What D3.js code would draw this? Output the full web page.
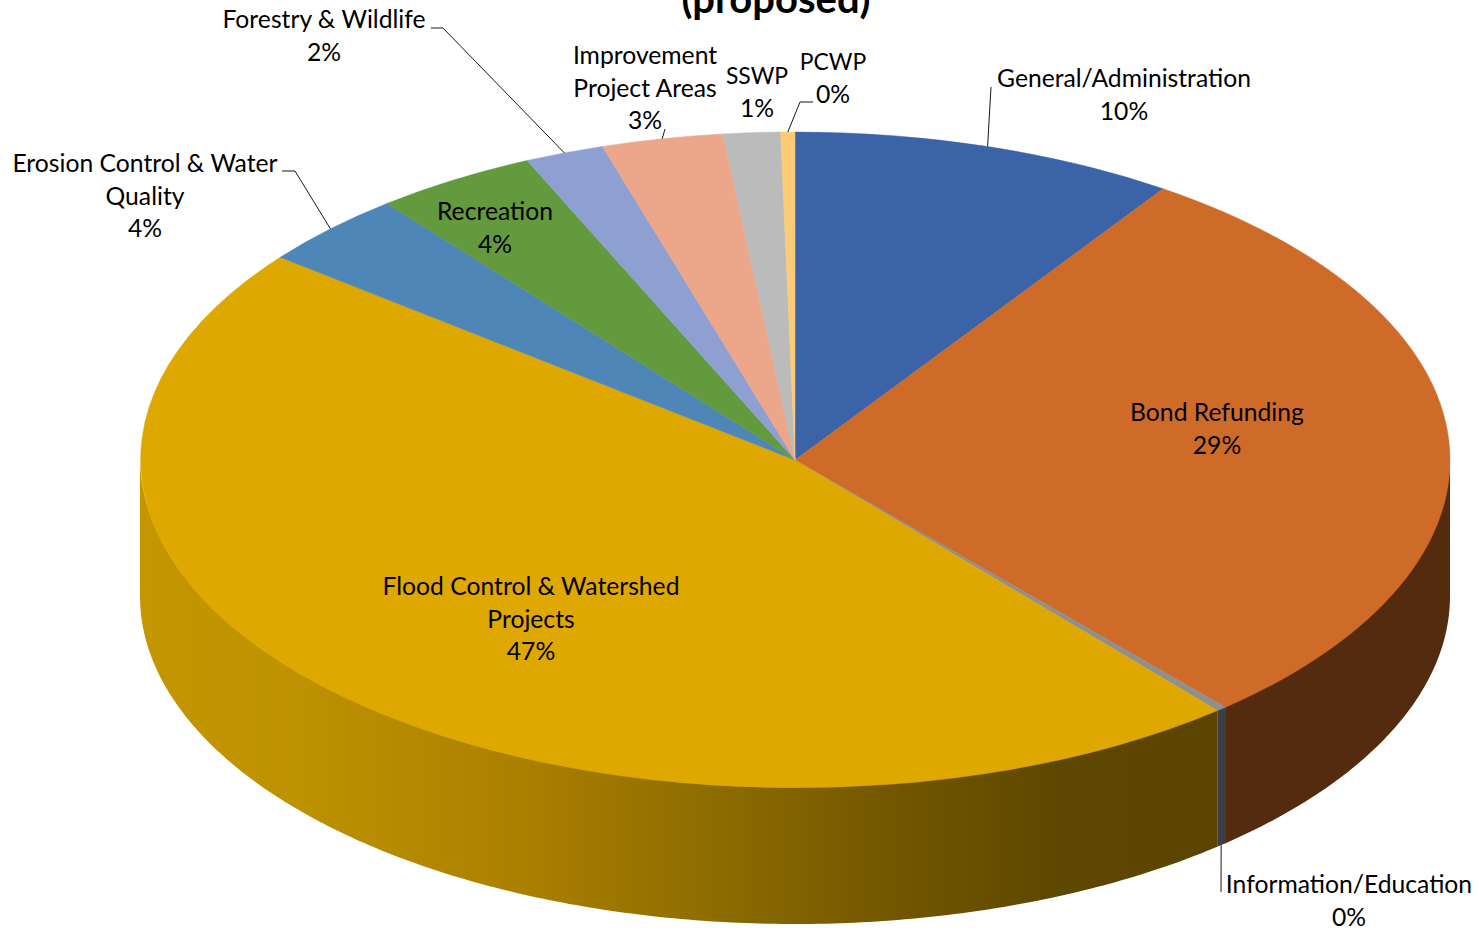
<!DOCTYPE html>
<html>
<head>
<meta charset="utf-8">
<script src="https://cdnjs.cloudflare.com/ajax/libs/d3/7.8.5/d3.min.js"></script>
<style>
    html, body { margin: 0; padding: 0; background: #fff; overflow: hidden; }
    text { font-family: Lato, "Open Sans", sans-serif; fill: #000; }
</style>
</head>
<body>
<div id="chart"></div>
<script>
// chart data
const categories = ["General/Administration", "Bond Refunding", "Information/Education",
    "Flood Control & Watershed Projects", "Erosion Control & Water Quality", "Recreation",
    "Forestry & Wildlife", "Improvement Project Areas", "SSWP", "PCWP"];
const shares = [9.5, 29.1, 0.25, 46.75, 3.7, 4.0, 1.95, 3.0, 1.4, 0.35];
const topColors = ["#3B63A8", "#CE6B28", "#8F8F8F", "#DFA800", "#4E86B8", "#629A3D", "#8E9FD1", "#ECA689", "#BBBBBB", "#FBCB78"];
const wallColors = ["#2A4678", "#552B10", "#3B3F44", "url(#floodWall)", "#355C80", "#44692A", "#616D8F", "#A1715D", "#808080", "#AB8B52"];
const titleText = "(proposed)";

// label layout: name lines, centre x, first baseline
const labelLines = [["General/Administration"], ["Bond Refunding"], ["Information/Education"],
    ["Flood Control & Watershed", "Projects"], ["Erosion Control & Water", "Quality"], ["Recreation"],
    ["Forestry & Wildlife"], ["Improvement", "Project Areas"], ["SSWP"], ["PCWP"]];
const labelX = [1124, 1217, 1349, 531, 145, 495, 324, 645, 757, 833];
const labelY = [87, 421, 893, 595, 172, 220, 28, 64, 84, 70];
// leader elbows, in slice order (null = no leader)
const leaderFrom = [[[991, 87]], null, [[1221, 892]], null, [[282, 171], [295, 171]], null,
    [[431, 28], [443, 28]], [[665, 129]], null, [[813, 102], [800, 102]]];

const width = 1479, height = 932;
const cx = 795, cy = 460, rx = 655, ry = 328, depth = 136;
const fontSize = 24.7, capsFontSize = 22.9, lineHeight = 32.5;

const x = d3.scaleLinear().domain([-1, 1]).range([cx - rx, cx + rx]);
const y = d3.scaleLinear().domain([-1, 1]).range([cy - ry, cy + ry]);

const svg = d3.select("#chart").append("svg")
    .attr("width", width)
    .attr("height", height)
    .style("display", "block");

// side wall gradient of the big slice
const grad = svg.append("defs").append("linearGradient")
    .attr("id", "floodWall")
    .attr("gradientUnits", "userSpaceOnUse")
    .attr("x1", x(-1)).attr("x2", x(0.65)).attr("y1", 0).attr("y2", 0);
[[0, "#C49600"], [0.15, "#BE9100"], [0.35, "#AC8000"], [0.55, "#8A6A00"], [0.7, "#725600"], [0.85, "#5E4700"], [1, "#5A4400"]]
    .forEach(s => grad.append("stop").attr("offset", s[0]).attr("stop-color", s[1]));

const slices = d3.pie().sort(null).value(d => d)(shares);

// point on the rim for an angle measured clockwise from the top
const rimX = a => x(Math.sin(a));
const rimY = a => y(-Math.cos(a));

// walls, only the front half of the rim shows
// top edge goes a bit under the top face so no white seam shows
const wall = d3.area()
    .x(a => rimX(a))
    .y0(a => rimY(a) - 3)
    .y1(a => rimY(a) + depth);

svg.append("g").selectAll("path")
    .data(slices)
    .enter().append("path")
    .attr("d", d => {
        let a0 = Math.max(d.startAngle, Math.PI / 2), a1 = Math.min(d.endAngle, 3 * Math.PI / 2);
        if (a1 <= a0) return null;
        let n = Math.max(2, Math.ceil((a1 - a0) * 90));
        return wall(d3.range(n + 1).map(i => a0 + (a1 - a0) * i / n));
    })
    .attr("fill", (d, i) => wallColors[i]);

// top face
const arc = d3.arc().innerRadius(0).outerRadius(1);
svg.append("g")
    .attr("transform", `translate(${cx},${cy}) scale(${rx},${ry})`)
    .selectAll("path")
    .data(slices)
    .enter().append("path")
    .attr("d", arc)
    .attr("fill", (d, i) => topColors[i])
    .attr("stroke", (d, i) => topColors[i])
    .attr("stroke-width", 0.5)
    .attr("vector-effect", "non-scaling-stroke");

// leader lines
const leader = d3.line();
svg.append("g").selectAll("path")
    .data(slices.filter((d, i) => leaderFrom[i]))
    .enter().append("path")
    .attr("d", d => {
        let a = (d.startAngle + d.endAngle) / 2;
        let drop = Math.cos(a) < 0 ? depth : 0;
        return leader(leaderFrom[d.index].concat([[rimX(a), rimY(a) + drop]]));
    })
    .attr("fill", "none")
    .attr("stroke", "#1a1a1a")
    .attr("stroke-width", 1);

// labels
const labels = svg.append("g").selectAll("text")
    .data(slices)
    .enter().append("text")
    .attr("text-anchor", "middle")
    .attr("font-size", fontSize);

labels.each(function(d, i) {
    let lines = labelLines[i].concat([Math.round(d.value) + "%"]);
    d3.select(this).selectAll("tspan")
        .data(lines)
        .enter().append("tspan")
        .attr("x", labelX[i])
        .attr("y", (l, j) => labelY[i] + j * lineHeight)
        // Lato capitals run wider than the original face
        .attr("font-size", l => /^[A-Z]+$/.test(l) ? capsFontSize : fontSize)
        .text(l => l);
});

// title, the top of it runs off the page
svg.append("text")
    .attr("x", 776)
    .attr("y", 13)
    .attr("text-anchor", "middle")
    .attr("font-size", 40)
    .attr("font-weight", "bold")
    .text(titleText);
</script>
</body>
</html>
